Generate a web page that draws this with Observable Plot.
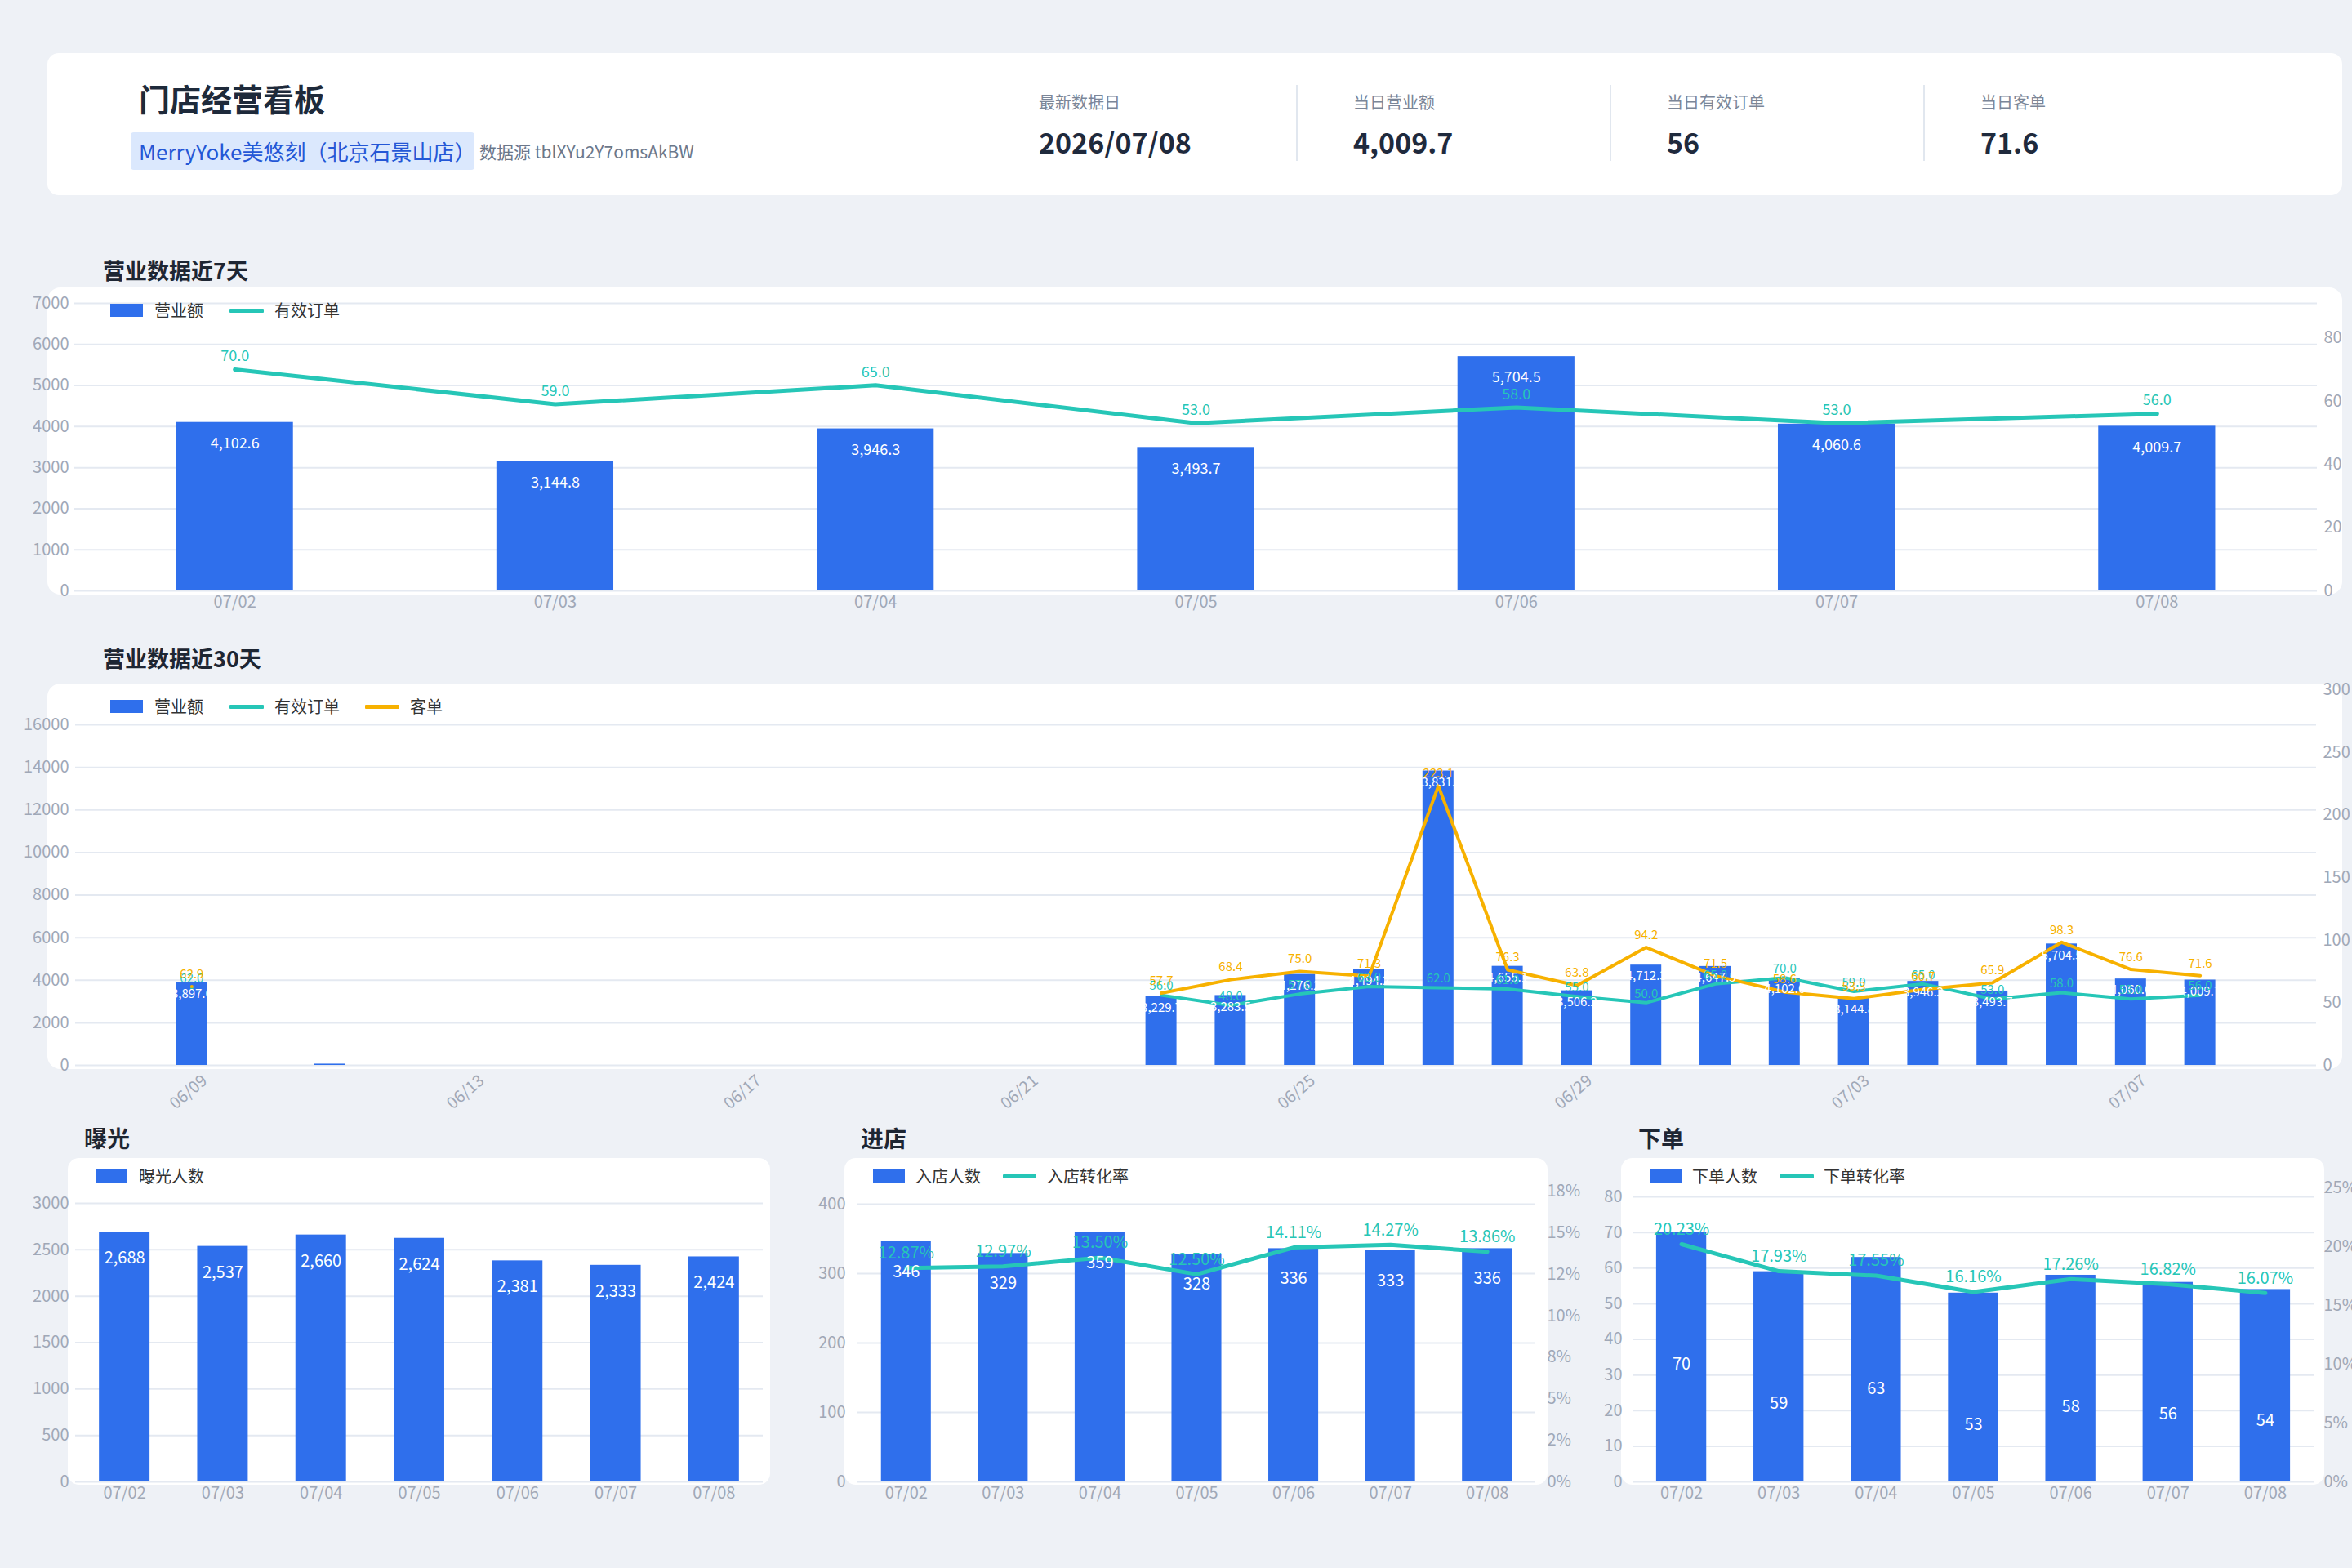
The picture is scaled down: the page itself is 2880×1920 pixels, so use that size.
<!DOCTYPE html>
<html><head><meta charset="utf-8">
<script src="https://cdn.jsdelivr.net/npm/d3@7"></script>
<script src="https://cdn.jsdelivr.net/npm/@observablehq/plot@0.6"></script>
<style>
body{margin:0;background:#eef1f6;font-family:"Noto Sans CJK SC","Noto Sans",sans-serif;}
#root{position:relative;width:2880px;height:1920px;overflow:hidden;background:#eef1f6;}
.card{position:absolute;background:#fff;border-radius:16px;}
.t{position:absolute;line-height:1;white-space:nowrap;}
.sw{position:absolute;}
.chart{position:absolute;}
</style>
</head><body><div id="root"></div>
<script>
// ---------- data ----------
const kpiLabels = ["最新数据日","当日营业额","当日有效订单","当日客单"];
const kpiValues = ["2026/07/08","4,009.7","56","71.6"];

const dates7 = ["07/02","07/03","07/04","07/05","07/06","07/07","07/08"];
const revenue7 = [4102.6,3144.8,3946.3,3493.7,5704.5,4060.6,4009.7];
const orders7 = [70,59,65,53,58,53,56];
const revTicks7 = [0,1000,2000,3000,4000,5000,6000,7000];
const ordTicks7 = [0,20,40,60,80];

const dates30 = ["06/09","06/10","06/11","06/12","06/13","06/14","06/15","06/16","06/17","06/18","06/19","06/20","06/21","06/22","06/23","06/24","06/25","06/26","06/27","06/28","06/29","06/30","07/01","07/02","07/03","07/04","07/05","07/06","07/07","07/08"];
const revenue30 = [3897.6,null,60,null,null,null,null,null,null,null,null,null,null,null,3229.7,3283.5,4276.2,4494.2,13831.4,4655.1,3506.2,4712.3,4647.5,4102.6,3144.8,3946.3,3493.7,5704.5,4060.6,4009.7];
const orders30 = [62,null,null,null,null,null,null,null,null,null,null,null,null,null,56,48,57,63,62,61,55,50,65,70,59,65,53,58,53,56];
const aov30 = [62.9,null,null,null,null,null,null,null,null,null,null,null,null,null,57.7,68.4,75.0,71.3,223.1,76.3,63.8,94.2,71.5,58.6,53.3,60.7,65.9,98.3,76.6,71.6];
const revTicks30 = [0,2000,4000,6000,8000,10000,12000,14000,16000];
const rightTicks30 = [0,50,100,150,200,250,300];
const xTicks30 = ["06/09","06/13","06/17","06/21","06/25","06/29","07/03","07/07"];

const exposure = [2688,2537,2660,2624,2381,2333,2424];
const expTicks = [0,500,1000,1500,2000,2500,3000];

const visitors = [346,329,359,328,336,333,336];
const visitRate = [12.87,12.97,13.50,12.50,14.11,14.27,13.86];
const visitTicks = [0,100,200,300,400];
const visitRateTicks = [0,2.5,5,7.5,10,12.5,15,17.5];
const visitRateLabels = ["0%","2%","5%","8%","10%","12%","15%","18%"];

const buyers = [70,59,63,53,58,56,54];
const buyRate = [20.23,17.93,17.55,16.16,17.26,16.82,16.07];
const buyTicks = [0,10,20,30,40,50,60,70,80];
const buyRateTicks = [0,5,10,15,20,25];
const buyRateLabels = ["0%","5%","10%","15%","20%","25%"];

// ---------- styling ----------
const BLUE = "#2f6fec", TEAL = "#26c6b7", ORANGE = "#f7b100", GRID = "#e4e9f1", AXIS = "#a0a8b7";
const FONT = '"Noto Sans CJK SC","Noto Sans",sans-serif';
const root = document.getElementById("root");

function box(cls, css, text) {
  const e = document.createElement("div");
  e.className = cls;
  Object.assign(e.style, css);
  if (text != null) e.textContent = text;
  root.appendChild(e);
  return e;
}
function txt(x, yc, size, s, color, weight) {
  return box("t", {left: x + "px", top: (yc - size / 2) + "px", fontSize: size + "px", color: color, fontWeight: weight || 400}, s);
}
function legend(yc, items) {
  for (const it of items) {
    if (it.type === "rect") box("sw", {left: it.x0 + "px", top: (yc - 8) + "px", width: (it.x1 - it.x0) + "px", height: "16px", background: it.color});
    else box("sw", {left: it.x0 + "px", top: (yc - 2.5) + "px", width: (it.x1 - it.x0) + "px", height: "5px", background: it.color, borderRadius: "1px"});
    txt(it.tx, yc, 20, it.label, "#333");
  }
}

// ---------- header ----------
box("card", {left: "58px", top: "65px", width: "2810px", height: "174px", borderRadius: "14px"});
txt(170, 120, 38, "门店经营看板", "#1e2a3b", 700);
box("t", {left: "160px", top: "162px", width: "421px", height: "46px", background: "#dbe8fd", borderRadius: "4px"});
txt(170, 185, 26, "MerryYoke美悠刻（北京石景山店）", "#2457d6");
txt(587, 185, 21, "数据源 tblXYu2Y7omsAkBW", "#6b778a");
const kpiX = [1272, 1657, 2041, 2425];
kpiLabels.forEach((l, i) => {
  txt(kpiX[i], 125, 20, l, "#7b8698");
  txt(kpiX[i], 174, 34, kpiValues[i], "#1f2a3d", 700);
  if (i > 0) box("sw", {left: (kpiX[i] - 70) + "px", top: "104px", width: "2px", height: "93px", background: "#e1e7ef"});
});

// ---------- section titles & cards ----------
txt(126, 330, 27, "营业数据近7天", "#1e2633", 700);
box("card", {left: "58px", top: "352px", width: "2810px", height: "376px"});
txt(126, 805, 27, "营业数据近30天", "#1e2633", 700);
box("card", {left: "58px", top: "837px", width: "2810px", height: "472px"});
txt(103, 1393, 28, "曝光", "#1e2633", 700);
box("card", {left: "83px", top: "1418px", width: "860px", height: "400px", borderRadius: "14px"});
txt(1054, 1393, 28, "进店", "#1e2633", 700);
box("card", {left: "1034px", top: "1418px", width: "861px", height: "400px", borderRadius: "14px"});
txt(2006, 1393, 28, "下单", "#1e2633", 700);
box("card", {left: "1985px", top: "1418px", width: "861px", height: "400px", borderRadius: "14px"});

// ---------- chart builder ----------
function chart(o) {
  const rows = o.cats.map((c, i) => ({c, b: o.bars[i], l: o.line ? o.line[i] : null, l2: o.line2 ? o.line2[i] : null}));
  const lw = o.lineWidth || 4;
  const marks = [
    Plot.gridY(o.yTicks, {stroke: GRID, strokeOpacity: 1, strokeWidth: 2}),
    Plot.barY(rows.filter(r => r.b != null), {x: "c", y: "b", fill: BLUE})
  ];
  if (o.line) marks.push(Plot.line(rows, {x: "c", y: r => r.l == null ? NaN : r.l * o.k, stroke: TEAL, strokeWidth: lw, strokeLinejoin: "round"}));
  if (o.line2) marks.push(Plot.line(rows, {x: "c", y: r => r.l2 == null ? NaN : r.l2 * o.k, stroke: ORANGE, strokeWidth: lw, strokeLinejoin: "round"}));
  marks.push(Plot.text(rows.filter(r => r.b != null && r.b >= (o.minLabel || 0)), {x: "c", y: "b", text: r => o.barFmt(r.b), fill: "#fff", fontSize: o.barFont, dy: o.barDy}));
  if (o.line) marks.push(Plot.text(rows.filter(r => r.l != null), {x: "c", y: r => r.l * o.k, text: r => o.lineFmt(r.l), fill: TEAL, fontSize: o.lineFont, dy: o.lineDy}));
  if (o.line2) marks.push(Plot.text(rows.filter(r => r.l2 != null), {x: "c", y: r => r.l2 * o.k, text: r => o.lineFmt(r.l2), fill: ORANGE, fontSize: o.lineFont, dy: o.line2Dy}));
  marks.push(Plot.axisY(o.yTicks, {anchor: "left", tickSize: 0, tickPadding: o.padL, fontSize: o.tickFont, color: AXIS, tickFormat: d => String(d), label: null}));
  if (o.rTicks) marks.push(Plot.axisY(o.rTicks.map(v => v * o.k), {anchor: "right", tickSize: 0, tickPadding: o.padR, fontSize: o.tickFont, color: AXIS, label: null,
    tickFormat: d => o.rLabels[o.rTicks.findIndex(v => Math.abs(v * o.k - d) < 1e-6)]}));
  marks.push(Plot.axisX(o.xTicks || o.cats, {tickSize: 0, tickPadding: o.padX, fontSize: o.xFont || o.tickFont, color: AXIS, tickRotate: o.rotate || 0, dx: o.xdx || 0, label: null}));
  const svg = Plot.plot({
    width: o.width, height: o.height,
    marginLeft: o.ml, marginRight: o.mr, marginTop: o.mt, marginBottom: o.mb,
    x: {type: "band", domain: o.cats, paddingInner: o.pi, paddingOuter: o.po, round: false, axis: null},
    y: {domain: o.yDomain, axis: null},
    style: {background: "transparent", fontFamily: FONT, overflow: "visible"},
    marks
  });
  const wrap = box("chart", {left: o.left + "px", top: o.top + "px", width: o.width + "px", height: o.height + "px"});
  wrap.appendChild(svg);
}

const f1 = d3.format(",.1f"), fInt = d3.format(","), fPct = v => v.toFixed(2) + "%";

// 7-day
chart({left: 0, top: 340, width: 2880, height: 420, ml: 91, mr: 43, mt: 31, mb: 37,
  cats: dates7, bars: revenue7, line: orders7, k: 77.0, pi: 0.635, po: 0.3175, lineWidth: 5,
  yDomain: [0, 7000], yTicks: revTicks7, rTicks: ordTicks7, rLabels: ordTicks7.map(String),
  barFmt: f1, barFont: 18, barDy: 26, lineFmt: v => v.toFixed(1), lineFont: 18, lineDy: -16,
  padL: 7, padR: 8, padX: 6, tickFont: 20});
legend(380, [
  {type: "rect", x0: 135, x1: 175, color: BLUE, tx: 189, label: "营业额"},
  {type: "line", x0: 281, x1: 323, color: TEAL, tx: 336, label: "有效订单"}
]);

// 30-day
chart({left: 0, top: 830, width: 2880, height: 534, ml: 92, mr: 44, mt: 57, mb: 60,
  cats: dates30, bars: revenue30, line: orders30, line2: aov30, k: 58.83, pi: 0.552, po: 1.455, lineWidth: 4,
  yDomain: [0, 16000], yTicks: revTicks30, rTicks: rightTicks30, rLabels: rightTicks30.map(String),
  barFmt: f1, barFont: 15, barDy: 14, minLabel: 1000, lineFmt: v => v.toFixed(1), lineFont: 15, lineDy: -11, line2Dy: -15,
  xTicks: xTicks30, rotate: -40, xdx: 16, padL: 8, padR: 8, padX: 16, tickFont: 20});
legend(865, [
  {type: "rect", x0: 135, x1: 175, color: BLUE, tx: 189, label: "营业额"},
  {type: "line", x0: 281, x1: 323, color: TEAL, tx: 336, label: "有效订单"},
  {type: "line", x0: 447, x1: 489, color: ORANGE, tx: 502, label: "客单"}
]);

// 曝光
chart({left: 0, top: 1450, width: 960, height: 420, ml: 92, mr: 26, mt: 23, mb: 56,
  cats: dates7, bars: exposure, pi: 0.485, po: 0.2425,
  yDomain: [0, 3000], yTicks: expTicks,
  barFmt: fInt, barFont: 20, barDy: 32, padL: 8, padX: 6, tickFont: 20});
legend(1440, [{type: "rect", x0: 118, x1: 156, color: BLUE, tx: 170, label: "曝光人数"}]);

// 进店
chart({left: 1000, top: 1450, width: 960, height: 420, ml: 50, mr: 80, mt: 24, mb: 56,
  cats: dates7, bars: visitors, line: visitRate, k: 23.92, pi: 0.485, po: 0.2425, lineWidth: 5,
  yDomain: [0, 400], yTicks: visitTicks, rTicks: visitRateTicks, rLabels: visitRateLabels,
  barFmt: fInt, barFont: 20, barDy: 37, lineFmt: fPct, lineFont: 20, lineDy: -18,
  padL: 15, padR: 14, padX: 6, tickFont: 20});
legend(1440, [
  {type: "rect", x0: 1069, x1: 1108, color: BLUE, tx: 1121, label: "入店人数"},
  {type: "line", x0: 1228, x1: 1269, color: TEAL, tx: 1282, label: "入店转化率"}
]);

// 下单
chart({left: 1960, top: 1450, width: 920, height: 420, ml: 39, mr: 47, mt: 15, mb: 56,
  cats: dates7, bars: buyers, line: buyRate, k: 3.297, pi: 0.485, po: 0.2425, lineWidth: 5,
  yDomain: [0, 80], yTicks: buyTicks, rTicks: buyRateTicks, rLabels: buyRateLabels,
  barFmt: fInt, barFont: 20, barDy: 161, lineFmt: fPct, lineFont: 20, lineDy: -18,
  padL: 13, padR: 12, padX: 6, tickFont: 20});
legend(1440, [
  {type: "rect", x0: 2020, x1: 2059, color: BLUE, tx: 2072, label: "下单人数"},
  {type: "line", x0: 2179, x1: 2221, color: TEAL, tx: 2233, label: "下单转化率"}
]);
</script>
</body></html>
